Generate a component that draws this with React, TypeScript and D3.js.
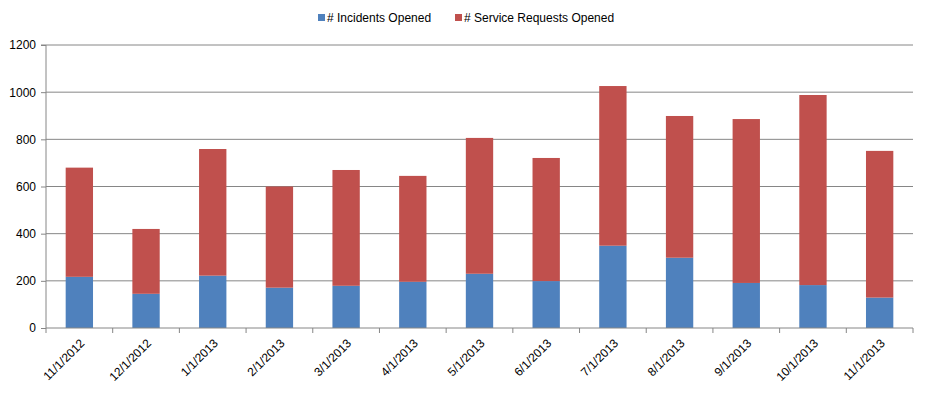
import { useEffect, useRef } from "react";
import * as d3 from "d3";

const months = [
  "11/1/2012", "12/1/2012", "1/1/2013", "2/1/2013", "3/1/2013", "4/1/2013", "5/1/2013",
  "6/1/2013", "7/1/2013", "8/1/2013", "9/1/2013", "10/1/2013", "11/1/2013",
];
const incidents = [217, 145, 222, 171, 179, 196, 230, 199, 349, 298, 191, 182, 129];
const serviceRequests = [463, 275, 537, 429, 491, 449, 576, 522, 677, 601, 695, 806, 622];
const yTicks = [0, 200, 400, 600, 800, 1000, 1200];
const seriesNames = ["# Incidents Opened", "# Service Requests Opened"];
const colors = ["#4F81BD", "#C0504D"];

function App() {
  const ref = useRef<SVGSVGElement>(null);

  useEffect(() => {
    const svg = d3.select(ref.current);
    svg.selectAll("*").remove();

    const margin = { top: 45, right: 13, bottom: 68, left: 46 };
    const width = 926 - margin.left - margin.right;
    const height = 396 - margin.top - margin.bottom;
    const font = "'Liberation Sans', Arial, sans-serif";

    const g = svg.append("g").attr("transform", `translate(${margin.left},${margin.top})`);

    const x = d3.scaleBand().domain(months).range([0, width]).padding(0);
    const y = d3.scaleLinear().domain([0, 1200]).range([height, 0]);
    const barW = x.bandwidth() * 0.41;

    // gridlines
    g.selectAll(".grid")
      .data(yTicks.filter((d) => d > 0))
      .enter()
      .append("line")
      .attr("x1", 0)
      .attr("x2", width)
      .attr("y1", (d) => y(d))
      .attr("y2", (d) => y(d))
      .attr("stroke", "#868686")
      .attr("stroke-width", 1);

    // stacked bars
    const rows = months.map((m, i) => ({ month: m, a: incidents[i], b: serviceRequests[i] }));
    const stack = d3.stack<any>().keys(["a", "b"])(rows);
    stack.forEach((layer, li) => {
      g.selectAll(".bar" + li)
        .data(layer)
        .enter()
        .append("rect")
        .attr("x", (d: any) => x(d.data.month)! + (x.bandwidth() - barW) / 2)
        .attr("width", barW)
        .attr("y", (d) => y(d[1]))
        .attr("height", (d) => y(d[0]) - y(d[1]))
        .attr("fill", colors[li]);
    });

    // y axis
    const yAxis = g
      .append("g")
      .call(d3.axisLeft(y).tickValues(yTicks).tickFormat(d3.format("d")).tickSize(5).tickPadding(5));
    yAxis.select(".domain").attr("stroke", "#868686").attr("d", `M-5,0H0V${height}`);
    yAxis.selectAll(".tick line").attr("stroke", "#868686");
    yAxis.selectAll("text").style("font-family", font).style("font-size", "12px").attr("fill", "#000");

    // x axis
    const xAxis = g.append("g").attr("transform", `translate(0,${height})`);
    xAxis.append("line").attr("x1", 0).attr("x2", width).attr("stroke", "#868686");
    xAxis.selectAll(".xt")
      .data(d3.range(months.length + 1))
      .enter()
      .append("line")
      .attr("x1", (i) => i * x.step())
      .attr("x2", (i) => i * x.step())
      .attr("y1", 0)
      .attr("y2", 5)
      .attr("stroke", "#868686");
    xAxis.selectAll(".xl")
      .data(months)
      .enter()
      .append("text")
      .attr("transform", (d) => `translate(${x(d)! + x.bandwidth() / 2 + 3},${13}) rotate(-45)`)
      .attr("text-anchor", "end")
      .attr("dy", "0.35em")
      .style("font-family", font)
      .style("font-size", "12px")
      .text((d) => d);

    // legend
    const legend = svg.append("g").attr("transform", "translate(318,18)");
    const offsets = [0, 137];
    seriesNames.forEach((name, i) => {
      legend.append("rect")
        .attr("x", offsets[i])
        .attr("y", -4)
        .attr("width", 7)
        .attr("height", 7)
        .attr("fill", colors[i]);
      legend.append("text")
        .attr("x", offsets[i] + 9)
        .attr("y", 0)
        .attr("dy", "0.35em")
        .style("font-family", font)
        .style("font-size", "12px")
        .text(name);
    });
  }, []);

  return (
    <svg
      ref={ref}
      width={926}
      height={396}
      style={{ position: "absolute", left: 0, top: 0, background: "#fff" }}
    ></svg>
  );
}

export default App;
